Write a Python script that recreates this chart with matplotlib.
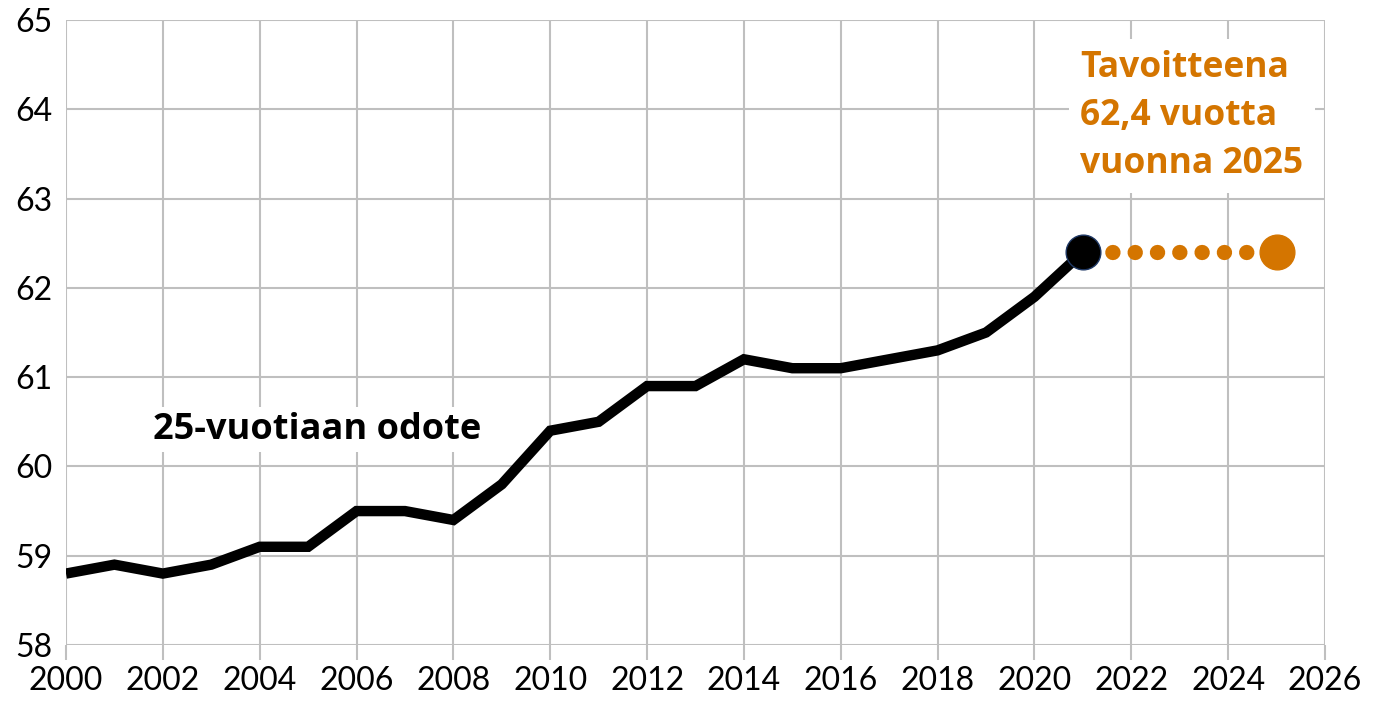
import matplotlib
matplotlib.use("Agg")
import matplotlib.pyplot as plt

years = [2000, 2001, 2002, 2003, 2004, 2005, 2006, 2007, 2008, 2009, 2010,
         2011, 2012, 2013, 2014, 2015, 2016, 2017, 2018, 2019, 2020, 2021]
values = [58.8, 58.9, 58.8, 58.9, 59.1, 59.1, 59.5, 59.5, 59.4, 59.8, 60.4,
          60.5, 60.9, 60.9, 61.2, 61.1, 61.1, 61.2, 61.3, 61.5, 61.9, 62.4]
target_years = [2021, 2025]
target_values = [62.4, 62.4]
x_ticks = list(range(2000, 2027, 2))
y_ticks = list(range(58, 66))

ORANGE = "#D47500"
GRID = "#BFBFBF"

plt.rcParams['font.family'] = ['Lato', 'DejaVu Sans']

fig = plt.figure(figsize=(13.81, 7.11), dpi=100)
ax = fig.add_axes([66/1381, 1-645/711, (1325-66)/1381, (645-20)/711])
ax.set_xlim(2000, 2026)
ax.set_ylim(58, 65)
ax.set_xticks(x_ticks)
ax.set_yticks(y_ticks)
ax.grid(True, color=GRID, linewidth=1.5)
ax.set_axisbelow(True)
for s in ax.spines.values():
    s.set_visible(False)
ax.tick_params(axis='x', length=11, width=1.5, color=GRID, labelsize=23, pad=4)
ax.tick_params(axis='y', length=0, labelsize=23, pad=10)

# dotted target line
ax.plot(target_years, target_values, color=ORANGE, linewidth=11,
        linestyle=(1.0, (0.01, 1.45)), dash_capstyle='round', zorder=2)
ax.plot(target_years[-1:], target_values[-1:], 'o', color=ORANGE,
        markersize=25, zorder=3)

ax.plot(years, values, color='black', linewidth=7.5, solid_capstyle='butt',
        solid_joinstyle='miter', zorder=4)
ax.plot(years[-1:], values[-1:], 'o', color='black', markeredgecolor='#1F3864',
        markeredgewidth=1, markersize=25, zorder=5)

ax.text(2020.95, 64.66, "Tavoitteena\n62,4 vuotta\nvuonna 2025", color=ORANGE,
        fontsize=25.5, fontweight='bold', ha='left', va='top', linespacing=1.44,
        family=['Open Sans', 'DejaVu Sans'],
        bbox=dict(facecolor='white', edgecolor='none', pad=8), zorder=6)
ax.text(2001.8, 60.41, "25-vuotiaan odote", color='black', fontsize=26,
        fontweight='bold', ha='left', va='center',
        family=['Open Sans', 'DejaVu Sans'],
        bbox=dict(facecolor='white', edgecolor='none', pad=3), zorder=6)

fig.savefig("out.png", dpi=100)
